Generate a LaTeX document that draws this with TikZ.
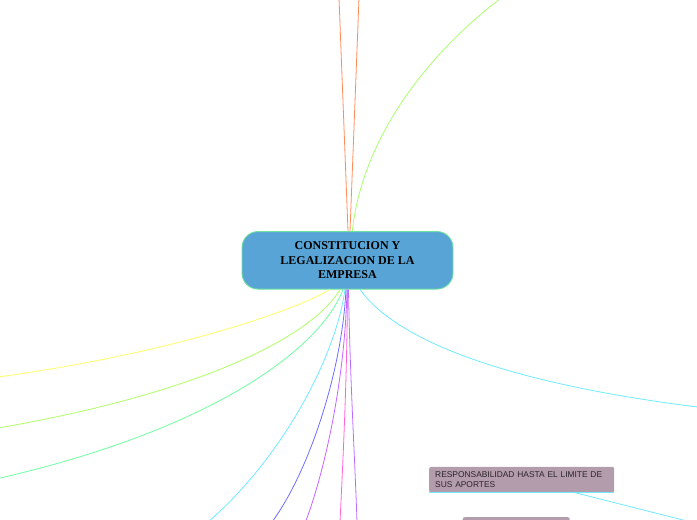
\documentclass[tikz,border=0pt]{standalone}
\usepackage{fontspec}
\setmainfont{Liberation Serif}
\newfontfamily\boxfont{Liberation Sans}
\definecolor{centralfill}{RGB}{88,164,214}
\definecolor{centralborder}{RGB}{110,225,160}
\definecolor{boxfill}{RGB}{179,156,171}
\definecolor{boxtext}{RGB}{45,35,45}
\definecolor{orangeL}{RGB}{255,140,90}
\definecolor{greenT}{RGB}{170,255,110}
\definecolor{yellowL}{RGB}{255,255,100}
\definecolor{lgreenL}{RGB}{175,255,100}
\definecolor{mintL}{RGB}{110,255,160}
\definecolor{cyanL}{RGB}{110,235,255}
\definecolor{blueL}{RGB}{110,110,255}
\definecolor{violetL}{RGB}{200,100,255}
\definecolor{pinkL}{RGB}{255,100,220}
\definecolor{purpleL}{RGB}{190,110,255}
\begin{document}
\begin{tikzpicture}[x=1pt,y=-1pt,
  link/.style={line width=0.8pt},
  central/.style={draw=centralborder, line width=0.9pt, fill=centralfill,
    rounded corners=16pt, minimum width=211pt, minimum height=57.5pt,
    align=center, inner sep=0pt,
    font=\bfseries\fontsize{12}{14.3}\selectfont},
  topicbox/.style={fill=boxfill, rounded corners=2pt, inner xsep=6pt, inner ysep=0pt,
    text=boxtext, align=left, font=\boxfont\fontsize{8.4}{9.7}\selectfont}]
\useasboundingbox (0,0) rectangle (697,520);
\clip (0,0) rectangle (697,520);

\node[central] (c) at (347.5,260.3) {CONSTITUCION Y\\LEGALIZACION DE LA\\EMPRESA};

\node[topicbox, anchor=north west, text width=173pt, minimum height=25.6pt] (r) at (429,466.7)
  {RESPONSABILIDAD HASTA EL LIMITE DE\\SUS APORTES};
\node[topicbox, anchor=north west, minimum width=107pt, minimum height=20pt] (s) at (462.5,517) {};

% free ends
\coordinate (eO1) at (339,-2);
\coordinate (eO2) at (359,-2);
\coordinate (eG) at (505,-5);
\coordinate (eY) at (-2,377);
\coordinate (eLG) at (-2,428);
\coordinate (eM) at (-2,478.5);
\coordinate (eCL) at (208,522);
\coordinate (eB) at (272,522);
\coordinate (eV) at (305.5,522);
\coordinate (eP) at (340,522);
\coordinate (eU) at (357,522);
\coordinate (eCR) at (700,407.3);
\coordinate (eR) at (700,524.3);

% top connectors
\draw[link, orangeL] ([xshift=0.5pt]c.north) -- (eO1);
\draw[link, orangeL] ([xshift=2.5pt]c.north) -- (eO2);
\draw[link, greenT] ([xshift=4.8pt]c.north) .. controls (362,140) and (425,55) .. (eG);

% bottom connectors
\draw[link, yellowL] ([xshift=-17.5pt]c.south) .. controls (300,308) and (180,352) .. (eY);
\draw[link, lgreenL] ([xshift=-7.5pt]c.south) .. controls (310,340) and (190,395) .. (eLG);
\draw[link, mintL] ([xshift=-4.5pt]c.south) .. controls (320,350) and (210,430) .. (eM);
\draw[link, cyanL] ([xshift=-2.5pt]c.south) .. controls (335,360) and (280,460) .. (eCL);
\draw[link, blueL] ([xshift=-1.5pt]c.south) .. controls (342,370) and (310,470) .. (eB);
\draw[link, violetL] ([xshift=-0.5pt]c.south) .. controls (345,380) and (325,470) .. (eV);
\draw[link, pinkL] ([xshift=0pt]c.south) .. controls (347,380) and (343,460) .. (eP);
\draw[link, purpleL] ([xshift=1pt]c.south) .. controls (350,380) and (355,460) .. (eU);
\draw[link, cyanL] ([xshift=12.5pt]c.south) .. controls (400,345) and (520,385) .. (eCR);

% topic box underline and its connector
\draw[line width=0.8pt, cyanL] (r.south west) -- (r.south east);
\draw[link, cyanL] ([xshift=53.5pt]r.south) -- (eR);
\end{tikzpicture}
\end{document}
